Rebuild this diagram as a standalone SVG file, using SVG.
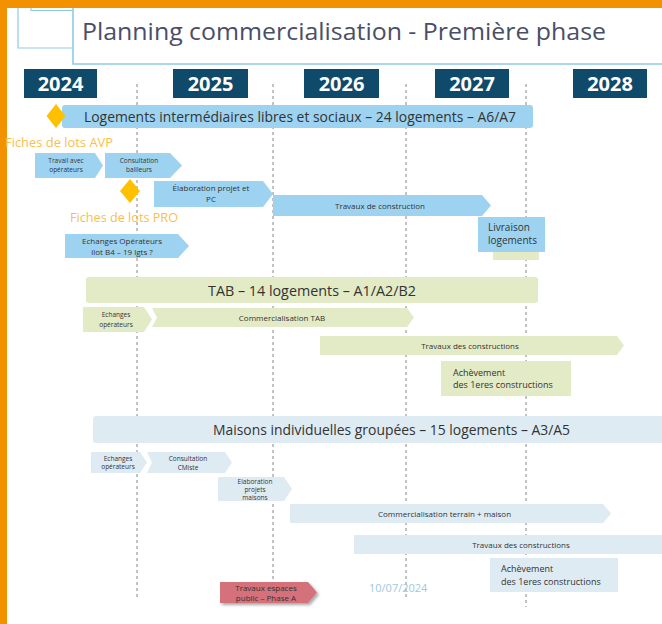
<svg xmlns="http://www.w3.org/2000/svg" width="662" height="624" viewBox="0 0 662 624">
<defs>
<style>
text{font-family:"Open Sans","Liberation Sans",sans-serif;}
.yr{fill:#0f4a6a;}
.yrt{fill:#fff;font-weight:bold;font-size:20px;text-anchor:middle;}
.grid{stroke:#9a9a9a;stroke-width:1.2;stroke-dasharray:3 3;fill:none;}
.blue{fill:#9dd3f0;}
.green{fill:#e3eac6;}
.pale{fill:#deebf3;}
.red{fill:#d5717a;}
.t{fill:#333;text-anchor:middle;}
.s7{font-size:6.5px;}
.s8{font-size:8px;}
.s9{font-size:9px;}
.s10{font-size:10px;}
.head{font-size:14.5px;fill:#333;}
.gold{fill:#ffc000;}
.lab{fill:#f9c04a;font-size:12.5px;}
</style>
<filter id="sh" x="-10%" y="-10%" width="130%" height="140%">
<feGaussianBlur in="SourceAlpha" stdDeviation="1.5"/>
<feOffset dx="2" dy="2"/>
<feComponentTransfer><feFuncA type="linear" slope="0.35"/></feComponentTransfer>
<feMerge><feMergeNode/><feMergeNode in="SourceGraphic"/></feMerge>
</filter>
</defs>
<rect width="662" height="624" fill="#fff"/>
<!-- frame -->
<rect x="0" y="0" width="662" height="8" fill="#f39200"/>
<rect x="0" y="0" width="7" height="624" fill="#f39200"/>
<g id="title">
<path d="M18 8 V48 H73 M31 8 V10.5 H73" fill="none" stroke="#8fcbe4" stroke-width="1.2"/>
<path d="M73 8 V64 H662" fill="none" stroke="#8fcbe4" stroke-width="1.6"/>
<text x="82" y="40" font-size="24" fill="#4a4e68" textLength="524" lengthAdjust="spacingAndGlyphs">Planning commercialisation - Première phase</text>
</g>
<g id="years">
<rect class="yr" x="24" y="69" width="73" height="29"/><text class="yrt" x="60.5" y="91">2024</text>
<rect class="yr" x="173" y="69" width="75" height="29"/><text class="yrt" x="210.5" y="91">2025</text>
<rect class="yr" x="304" y="69" width="75" height="29"/><text class="yrt" x="341.5" y="91">2026</text>
<rect class="yr" x="435" y="69" width="74" height="29"/><text class="yrt" x="472" y="91">2027</text>
<rect class="yr" x="573" y="69" width="74" height="29"/><text class="yrt" x="610" y="91">2028</text>
</g>
<g id="gridlines">
<line class="grid" x1="137" y1="84" x2="137" y2="598"/>
<line class="grid" x1="273" y1="84" x2="273" y2="582"/>
<line class="grid" x1="406" y1="84" x2="406" y2="598"/>
<line class="grid" x1="526" y1="84" x2="526" y2="607"/>
</g>
<!-- section 1 -->
<g id="logements">
<rect class="blue" x="62" y="105" width="471" height="23" rx="3"/>
<text class="head" x="84" y="121.5" textLength="432" lengthAdjust="spacingAndGlyphs">Logements intermédiaires libres et sociaux – 24 logements – A6/A7</text>
</g>
<g id="diamond1"><polygon class="gold" points="56,104 65.5,116 56,128 46.5,116"/></g>
<g id="avp"><text class="lab" x="5" y="147" textLength="108" lengthAdjust="spacingAndGlyphs">Fiches de lots AVP</text></g>
<g id="travail">
<polygon class="blue" points="35,153 95,153 103,165.5 95,178 35,178"/>
<text class="t s7" x="66" y="163">Travail avec</text><text class="t s7" x="66" y="172">opérateurs</text>
</g>
<g id="consultation">
<polygon class="blue" points="105,153 170,153 182,165.5 170,178 105,178"/>
<text class="t s7" x="139" y="163">Consultation</text><text class="t s7" x="139" y="172">bailleurs</text>
</g>
<g id="diamond2"><polygon class="gold" points="130,179 140,191 130,203 120,191"/></g>
<g id="pro"><text class="lab" x="70" y="222" textLength="108" lengthAdjust="spacingAndGlyphs">Fiches de lots PRO</text></g>
<g id="elaboration">
<polygon class="blue" points="154,181 263,181 273,194 263,207 154,207"/>
<text class="t s8" x="211" y="191">Élaboration projet et</text><text class="t s8" x="211" y="202">PC</text>
</g>
<g id="travaux1">
<polygon class="blue" points="273,195 482,195 491,205.5 482,216 273,216"/>
<text class="t s8" x="380" y="208.5">Travaux de construction</text>
</g>
<g id="livraison">
<rect class="green" x="493" y="250" width="46" height="10"/>
<rect class="blue" x="478" y="217" width="67" height="35"/>
<text x="488" y="231" font-size="10" fill="#333">Livraison</text>
<text x="488" y="244" font-size="10" fill="#333">logements</text>
</g>
<g id="echanges1">
<polygon class="blue" points="65,234 178,234 189,246 178,258 65,258"/>
<text class="t s8" x="122" y="244">Echanges Opérateurs</text><text class="t s8" x="122" y="255">ilot B4 – 19 lgts ?</text>
</g>
<!-- section 2 -->
<g id="tab">
<rect class="green" x="86" y="277" width="452" height="26" rx="3"/>
<text x="208" y="295.5" font-size="15" fill="#333" textLength="208" lengthAdjust="spacingAndGlyphs">TAB – 14 logements – A1/A2/B2</text>
</g>
<g id="echanges2">
<polygon class="green" points="83,307 144,307 152,319.5 144,332 83,332"/>
<text class="t s7" x="116" y="317">Echanges</text><text class="t s7" x="116" y="327">opérateurs</text>
</g>
<g id="commtab">
<polygon class="green" points="152,308 407,308 414,317.5 407,327 152,327 157,317.5"/>
<text class="t s8" x="282" y="320.5">Commercialisation TAB</text>
</g>
<g id="travaux2">
<polygon class="green" points="320,336 617,336 624,345.5 617,355 320,355"/>
<text class="t s8" x="470" y="348.5">Travaux des constructions</text>
</g>
<g id="achevement1">
<rect class="green" x="441" y="361" width="130" height="35"/>
<text x="453" y="376" font-size="9" fill="#333">Achèvement</text>
<text x="453" y="388" font-size="9" fill="#333">des 1eres constructions</text>
</g>
<!-- section 3 -->
<g id="maisons">
<rect class="pale" x="93" y="416" width="575" height="27" rx="3"/>
<text x="213" y="435" font-size="15" fill="#333" textLength="357" lengthAdjust="spacingAndGlyphs">Maisons individuelles groupées – 15 logements – A3/A5</text>
</g>
<g id="echanges3">
<polygon class="pale" points="91,452 140,452 147,462.5 140,473 91,473"/>
<text class="t s7" x="118" y="461">Echanges</text><text class="t s7" x="118" y="469">opérateurs</text>
</g>
<g id="consultcm">
<polygon class="pale" points="147,452 225,452 232,462.5 225,473 147,473 152,462.5"/>
<text class="t s7" x="188" y="461">Consultation</text><text class="t s7" x="188" y="469.5">CMiste</text>
</g>
<g id="elabmaisons">
<polygon class="pale" points="218,477 284,477 292,489 284,501 218,501"/>
<text class="t s7" x="255" y="484">Elaboration</text><text class="t s7" x="255" y="492">projets</text><text class="t s7" x="255" y="500">maisons</text>
</g>
<g id="commterrain">
<polygon class="pale" points="290,504 603,504 611,513.5 603,523 290,523"/>
<text x="378" y="517" font-size="8" fill="#333">Commercialisation terrain + maison</text>
</g>
<g id="travaux3">
<rect class="pale" x="354" y="535" width="308" height="19"/>
<text class="t s8" x="521" y="547.5">Travaux des constructions</text>
</g>
<g id="achevement2">
<rect class="pale" x="490" y="558" width="128" height="34"/>
<text x="501" y="572" font-size="9" fill="#333">Achèvement</text>
<text x="501" y="585" font-size="9" fill="#333">des 1eres constructions</text>
</g>
<g id="date"><text x="369" y="592" font-size="11" fill="#9cc9e2">10/07/2024</text></g>
<g id="espaces">
<polygon class="red" filter="url(#sh)" points="220,582 308,582 317,592.5 308,603 220,603"/>
<text class="t s8" x="266" y="590.5">Travaux espaces</text><text class="t s8" x="266" y="600.5">public – Phase A</text>
</g>
</svg>
